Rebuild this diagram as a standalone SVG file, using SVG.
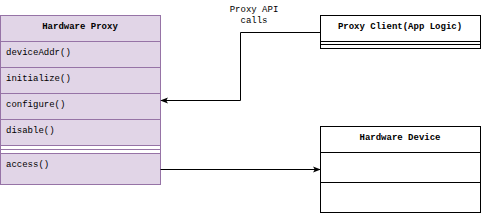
<svg xmlns="http://www.w3.org/2000/svg" width="482" height="216" viewBox="0 0 482 216">
<style>
text{font-family:"Liberation Mono","DejaVu Sans Mono",monospace;font-size:9px;fill:#000}
.b{font-weight:bold}
.p{fill:#e1d5e7;stroke:#9673a6;stroke-width:1}
.w{fill:#fff;stroke:#000;stroke-width:1}
.l{fill:none;stroke:#000;stroke-width:1}
</style>
<defs>
<marker id="ah" viewBox="0 0 10 10" refX="9" refY="5" markerWidth="8" markerHeight="8" orient="auto" markerUnits="userSpaceOnUse">
<path d="M0,1 L10,5 L0,9 L2.5,5 Z" fill="#000"/>
</marker>
</defs>
<g id="hardware-proxy">
<rect class="p" x="0.5" y="15.5" width="160" height="169"/>
<line class="p" x1="0.5" y1="41.5" x2="160.5" y2="41.5"/>
<line class="p" x1="0.5" y1="67.5" x2="160.5" y2="67.5"/>
<line class="p" x1="0.5" y1="93.5" x2="160.5" y2="93.5"/>
<line class="p" x1="0.5" y1="119.5" x2="160.5" y2="119.5"/>
<rect x="0.5" y="145.5" width="160" height="8" fill="#fff" stroke="#9673a6"/>
<line class="p" x1="0.5" y1="149.5" x2="160.5" y2="149.5"/>
<text class="b" x="80" y="29" text-anchor="middle">Hardware Proxy</text>
<text x="6" y="55">deviceAddr()</text>
<text x="6" y="81">initialize()</text>
<text x="6" y="107">configure()</text>
<text x="6" y="133">disable()</text>
<text x="6" y="167">access()</text>
</g>
<g id="proxy-client">
<rect class="w" x="320.5" y="15.5" width="160" height="33"/>
<line class="l" x1="320.5" y1="41.5" x2="480.5" y2="41.5"/>
<line class="l" x1="320.5" y1="44.5" x2="480.5" y2="44.5"/>
<text class="b" x="400" y="29" text-anchor="middle">Proxy Client(App Logic)</text>
</g>
<g id="hardware-device">
<rect class="w" x="320.5" y="126.5" width="160" height="86"/>
<line class="l" x1="320.5" y1="152.5" x2="480.5" y2="152.5"/>
<line class="l" x1="320.5" y1="182.5" x2="480.5" y2="182.5"/>
<text class="b" x="400" y="140" text-anchor="middle">Hardware Device</text>
</g>
<g id="connectors">
<path class="l" d="M320.5,32.5 H240.5 V100.5 H161" marker-end="url(#ah)"/>
<text x="254" y="12" text-anchor="middle">Proxy API</text>
<text x="254" y="23" text-anchor="middle">calls</text>
<path class="l" d="M160.5,169.5 H320" marker-end="url(#ah)"/>
</g>
</svg>
